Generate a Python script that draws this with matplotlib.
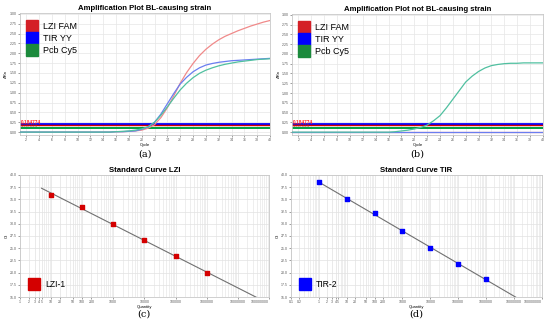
import numpy as np
import matplotlib
matplotlib.use("Agg")
import matplotlib.pyplot as plt
from matplotlib.lines import Line2D

plt.rcParams['font.family'] = ['Liberation Sans', 'DejaVu Sans']

# amplification data (delta Rn per cycle)
ciclos = list(range(1, 41))
lzi_a = [0.00]*15 + [0.01, 0.01, 0.02, 0.03, 0.05, 0.10, 0.19, 0.37, 0.62, 0.92,
                     1.24, 1.51, 1.74, 1.94, 2.10, 2.23, 2.34, 2.43, 2.50, 2.57,
                     2.63, 2.69, 2.74, 2.79, 2.83]
tir_a = [0.00]*15 + [0.01, 0.01, 0.02, 0.03, 0.07, 0.13, 0.25, 0.46, 0.72, 0.98,
                     1.22, 1.39, 1.53, 1.63, 1.70, 1.74, 1.77, 1.79, 1.81, 1.82,
                     1.83, 1.84, 1.85, 1.86, 1.87]
pcb_a = [0.00]*15 + [0.01, 0.02, 0.03, 0.05, 0.08, 0.14, 0.25, 0.43, 0.64, 0.86,
                     1.07, 1.24, 1.38, 1.49, 1.57, 1.63, 1.68, 1.72, 1.75, 1.78,
                     1.80, 1.82, 1.84, 1.85, 1.86]
lzi_b = [0.00]*40
tir_b = [0.00]*40
pcb_b = [0.00]*16 + [0.01, 0.03, 0.05, 0.08, 0.12, 0.18, 0.29, 0.42, 0.62,
                     0.84, 1.06, 1.28, 1.43, 1.55, 1.64, 1.70, 1.73, 1.75, 1.76,
                     1.76, 1.77, 1.77, 1.77, 1.77]
limiares = [0.20, 0.17, 0.10]   # blue, red, green threshold lines

# standard curves
qtd_lzi = [10, 100, 1000, 10000, 100000, 1000000]
ct_lzi = [35.9, 33.4, 29.9, 26.7, 23.4, 19.9]
qtd_tir = [1, 10, 100, 1000, 10000, 100000, 1000000]
ct_tir = [38.6, 35.0, 32.1, 28.5, 25.1, 21.7, 18.7]

ticks_c = [1, 2, 3, 4, 5, 10, 20, 50, 100, 200, 1000, 10000, 100000, 1000000, 10000000, 100000000]
ticks_d = [0.1, 0.2] + ticks_c

cor_leg = ['#d42027', '#0000ff', '#1b8a3c']
cor_curva = ['#f08a8a', '#6a7ef0', '#50c0a0']
nomes = ['LZI FAM', 'TIR YY', 'Pcb Cy5']

fig = plt.figure(figsize=(5.5, 3.25), dpi=100)


def estilo(ax):
    for s in ax.spines.values():
        s.set_color('#c8c8c8')
        s.set_linewidth(0.6)
    ax.tick_params(labelsize=2.5, length=1.2, width=0.4, colors='#555555', pad=1)
    ax.tick_params(which='minor', length=0)


def amplificacao(ax, dados, titulo, letra):
    ax.set_xlim(1, 40)
    ax.set_ylim(-0.07, 3.02)
    ax.set_xticks(range(2, 41, 2))
    ax.set_yticks(np.arange(0, 3.01, 0.25))
    ax.set_yticklabels([f"{v:.2f}" for v in np.arange(0, 3.01, 0.25)])
    ax.grid(True, color='#e6e6e6', lw=0.5)
    ax.set_axisbelow(True)
    for y, c, lw in zip(limiares, ['#0000ff', '#d00000', '#00a040'], [2.0, 1.0, 1.4]):
        ax.axhline(y, color=c, lw=lw, zorder=2)
    for v, c in zip(dados, cor_curva):
        ax.plot(ciclos, v, color=c, lw=0.9, zorder=3)
    ax.text(1.2, 0.19, "0.184774", color='#ff2020', fontsize=3.4, fontweight='bold',
            va='bottom', zorder=4)
    ax.text(1.2, 0.115, "0.097224", color='#b03030', fontsize=3.0, fontweight='bold',
            va='bottom', zorder=3, alpha=0.6)
    alcas = [Line2D([], [], marker='s', ls='', color=c, markersize=8) for c in cor_leg]
    ax.legend(alcas, nomes, loc='upper left', bbox_to_anchor=(-0.025, 1.0), fontsize=6.5,
              frameon=False, handletextpad=0.25, labelspacing=0.35, borderpad=0.5)
    ax.set_title(titulo, fontsize=5.6, fontweight='bold', pad=2)
    ax.set_xlabel("Cycle", fontsize=3, labelpad=1)
    ax.set_ylabel("\u0394Rn", fontsize=3, labelpad=1)
    ax.text(0.5, -0.155, letra, transform=ax.transAxes, ha='center', va='center',
            fontsize=7, family='DejaVu Serif')
    estilo(ax)


def padrao(ax, qtd, ct, ini, cor, nome, ticks, titulo, letra, xmin):
    ax.set_xscale('log')
    ax.set_xlim(xmin, 1e8)
    ax.set_ylim(15, 40)
    a, b = np.polyfit(np.log10(qtd), ct, 1)
    xs = np.array([ini, 1e8])
    ax.plot(xs, a*np.log10(xs) + b, color='#707070', lw=0.8, zorder=2)
    ax.scatter(qtd, ct, marker='s', s=8, color=cor, edgecolors=cor, zorder=3)
    ax.set_xticks(ticks)
    rotulos = ax.set_xticklabels([str(t) for t in ticks])
    rotulos[-1].set_ha('right')
    ax.set_yticks(np.arange(15, 40.1, 2.5))
    ax.set_yticklabels([f"{v:.1f}" for v in np.arange(15, 40.1, 2.5)])
    ax.grid(True, which='major', color='#e2e2e2', lw=0.5)
    ax.grid(True, which='minor', axis='x', color='#e8e8e8', lw=0.5)
    ax.set_axisbelow(True)
    alca = [Line2D([], [], marker='s', ls='', color=cor, markersize=8.5)]
    ax.legend(alca, [nome], loc='lower left', bbox_to_anchor=(-0.01, 0.0), fontsize=6.2,
              frameon=False, handletextpad=0.3, borderpad=0.4)
    ax.set_title(titulo, fontsize=5.6, fontweight='bold', pad=2)
    ax.set_xlabel("Quantity", fontsize=3, labelpad=1)
    ax.set_ylabel("Ct", fontsize=3, labelpad=1)
    ax.text(0.5, -0.14, letra, transform=ax.transAxes, ha='center', va='center',
            fontsize=7, family='DejaVu Serif')
    estilo(ax)


ax_a = fig.add_axes([0.036, 0.585, 0.455, 0.375])
ax_b = fig.add_axes([0.531, 0.585, 0.456, 0.372])
ax_c = fig.add_axes([0.036, 0.086, 0.453, 0.376])
ax_d = fig.add_axes([0.529, 0.086, 0.456, 0.376])

amplificacao(ax_a, [lzi_a, tir_a, pcb_a], "Amplification Plot BL-causing strain", "(a)")
amplificacao(ax_b, [lzi_b, tir_b, pcb_b], "Amplification Plot not BL-causing strain", "(b)")
padrao(ax_c, qtd_lzi, ct_lzi, 5, '#d40000', 'LZI-1', ticks_c, "Standard Curve LZI", "(c)", 1)
padrao(ax_d, qtd_tir, ct_tir, 1, '#0000ff', 'TIR-2', ticks_d, "Standard Curve TIR", "(d)", 0.1)

fig.savefig("out.png", dpi=100)
